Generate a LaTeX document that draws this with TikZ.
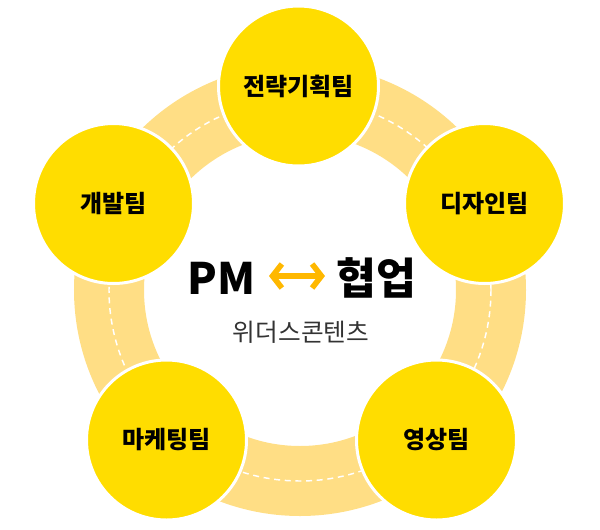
\documentclass[tikz,border=0pt]{standalone}
\usepackage{fontspec}
\usepackage{tikz}
\usetikzlibrary{arrows.meta, positioning}
\newfontfamily\krfont{Noto Sans CJK KR}
\definecolor{TeamYellow}{HTML}{FFDD00}
\definecolor{RingYellow}{HTML}{FFDE85}
\definecolor{ArrowOrange}{HTML}{FFB800}
\definecolor{SubGray}{HTML}{333333}

\begin{document}
\begin{tikzpicture}[x=0.75pt, y=-0.75pt,
    team/.style={circle, fill=TeamYellow, draw=white, line width=2.25pt,
                 minimum size=120pt, inner sep=0pt,
                 font=\krfont\bfseries\fontsize{18}{20}\selectfont},
    ringband/.style={draw=RingYellow, line width=52.5pt},
    ringdash/.style={draw=white, line width=1.1pt, dash pattern=on 4.5pt off 3.5pt},
    headline/.style={font=\krfont\bfseries\fontsize{32.5}{35}\selectfont, inner sep=0pt},
    swap/.style={draw=ArrowOrange, line width=4.2pt,
                 {Straight Barb[length=7pt, width=18pt]}-{Straight Barb[length=7pt, width=18pt]}}]
\useasboundingbox (0,0) rectangle (600,529);

% ring behind the teams
\coordinate (hub) at (300,290);
\draw[ringband] (hub) circle[radius=191];
\draw[ringdash] (hub) circle[radius=191];

% teams
\node[team] (plan)   at (298.5,86)   {전략기획팀};
\node[team] (design) at (484.5,203.5) {디자인팀};
\node[team] (video)  at (436.5,440)  {영상팀};
\node[team] (mkt)    at (166.5,440)  {마케팅팀};
\node[team] (dev)    at (113.5,203.5) {개발팀};

% centre
\node[headline] (pm) at (221.5,278) {PM};
\node[headline] (collab) at (376,278) {협업};
\coordinate (swapL) at (269,276);
\coordinate (swapR) at (325,276);
\draw[swap] (swapL) -- (swapR);
\node[font=\krfont\fontsize{18.5}{20}\selectfont, text=SubGray] (sub) at (301,332) {위더스콘텐츠};
\end{tikzpicture}
\end{document}
